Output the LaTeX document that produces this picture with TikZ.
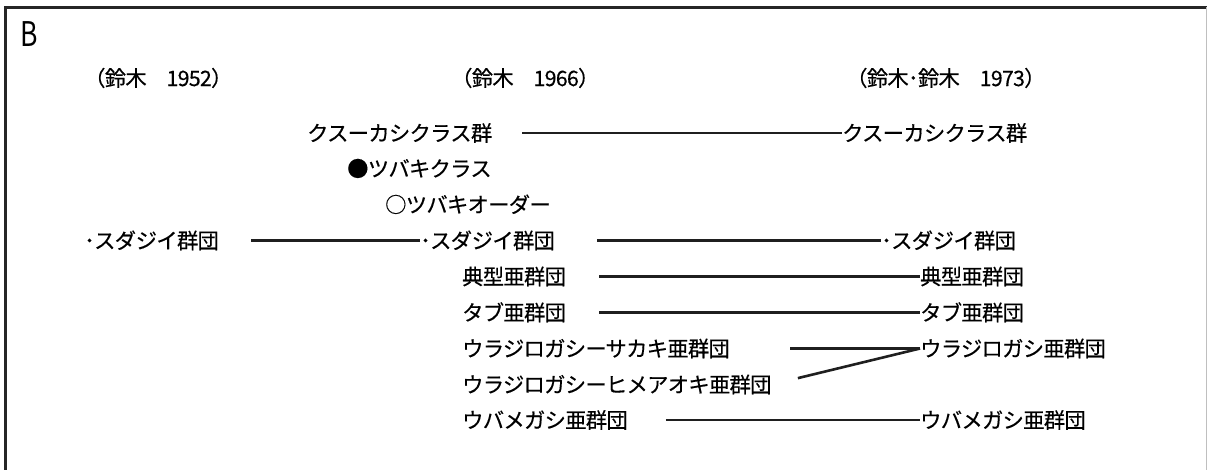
\documentclass[tikz,border=0pt]{standalone}
\usepackage{fontspec}
\setmainfont{Noto Sans CJK JP}
\begin{document}
\begin{tikzpicture}[x=1pt,y=-1pt,
  lbl/.style={anchor=west,inner sep=0pt,font=\fontsize{21.3}{24}\selectfont\addfontfeature{FakeBold=0.4,LetterSpace=-3.3},text height=18.7pt,text depth=2.6pt},
  conn/.style={line width=2.6pt,draw=black!88}]
\useasboundingbox (0,0) rectangle (1207,470);
% frame
\draw[line width=3pt,black!85] (5.5,470) -- (5.5,7.5) -- (1207,7.5);
\draw[line width=1pt,black!25] (1206.5,7.5) -- (1206.5,470);
% title
\node[anchor=west,inner sep=0pt,font=\fontsize{34}{34}\selectfont\addfontfeature{FakeStretch=0.78}] (B) at (20,34) {B};
% headers
\node[lbl] (h1) at (84,78) {（鈴木　1952）};
\node[lbl] (h2) at (451,78) {（鈴木　1966）};
\node[lbl] (h3) at (846,78) {（鈴木･鈴木　1973）};
% middle column
\node[lbl] (kusuM) at (307,133) {クスーカシクラス群};
\node[lbl] (tsubC) at (347,168.5) {●ツバキクラス};
\node[lbl] (tsubO) at (385,204.5) {○ツバキオーダー};
% left
\node[lbl] (sudaL) at (84,240.5) {･スダジイ群団};
\node[lbl] (sudaM) at (420,240.5) {･スダジイ群団};
\node[lbl] (tenM) at (462,276.5) {典型亜群団};
\node[lbl] (tabuM) at (462,312.5) {タブ亜群団};
\node[lbl] (ura1M) at (462,348.5) {ウラジロガシーサカキ亜群団};
\node[lbl] (ura2M) at (462,384.5) {ウラジロガシーヒメアオキ亜群団};
\node[lbl] (ubaM) at (462,420) {ウバメガシ亜群団};
% right column
\node[lbl] (kusuR) at (842,133) {クスーカシクラス群};
\node[lbl] (sudaR) at (881,240.5) {･スダジイ群団};
\node[lbl] (tenR) at (920,276.5) {典型亜群団};
\node[lbl] (tabuR) at (920,312.5) {タブ亜群団};
\node[lbl] (uraR) at (920,348.5) {ウラジロガシ亜群団};
\node[lbl] (ubaR) at (920,420) {ウバメガシ亜群団};
% connectors
\draw[conn,shorten <=30pt] (kusuM.east) -- (kusuR.west);
\draw[conn,shorten <=32pt] (sudaL.east) -- (sudaM.west);
\draw[conn,shorten <=42pt] (sudaM.east) -- (sudaR.west);
\draw[conn,shorten <=33pt] (tenM.east) -- (tenR.west);
\draw[conn,shorten <=33pt] (tabuM.east) -- (tabuR.west);
\draw[conn,shorten <=60pt] (ura1M.east) -- (uraR.west);
\draw[conn,shorten <=27pt] (ura2M.east) -- (uraR.west);
\draw[conn,shorten <=38pt] (ubaM.east) -- (ubaR.west);
\end{tikzpicture}
\end{document}
